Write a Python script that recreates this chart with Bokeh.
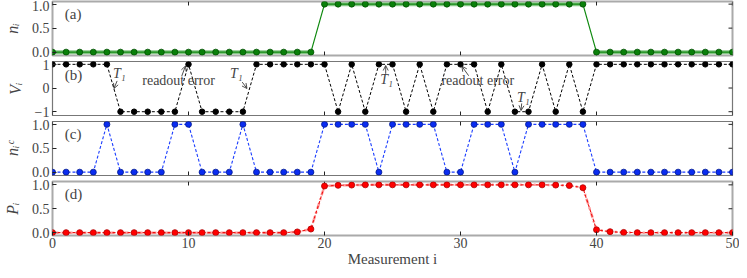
import math
from bokeh.plotting import figure
from bokeh.layouts import column
from bokeh.models import (Range1d, FixedTicker, LinearAxis, Label, Arrow, OpenHead)
from bokeh.embed import file_html
from bokeh.resources import INLINE

# ---------------- data ----------------
measurement = [0, 1, 2, 3, 4, 5, 6, 7, 8, 9, 10, 11, 12, 13, 14, 15, 16, 17, 18, 19,
               20, 21, 22, 23, 24, 25, 26, 27, 28, 29, 30, 31, 32, 33, 34, 35, 36, 37, 38, 39,
               40, 41, 42, 43, 44, 45, 46, 47, 48, 49, 50]
n_state = [0, 0, 0, 0, 0, 0, 0, 0, 0, 0, 0, 0, 0, 0, 0, 0, 0, 0, 0, 0,
           1, 1, 1, 1, 1, 1, 1, 1, 1, 1, 1, 1, 1, 1, 1, 1, 1, 1, 1, 1,
           0, 0, 0, 0, 0, 0, 0, 0, 0, 0, 0]
v_readout = [1, 1, 1, 1, 1, -1, -1, -1, -1, -1, 1, -1, -1, -1, -1, 1, 1, 1, 1, 1,
             1, -1, 1, -1, 1, 1, -1, 1, -1, 1, 1, 1, -1, 1, -1, -1, 1, -1, 1, -1,
             1, 1, 1, 1, 1, 1, 1, 1, 1, 1, 1]
n_change = [0, 0, 0, 0, 1, 0, 0, 0, 0, 1, 1, 0, 0, 0, 1, 0, 0, 0, 0, 0,
            1, 1, 1, 1, 0, 1, 1, 1, 1, 0, 0, 1, 1, 1, 0, 1, 1, 1, 1, 1,
            0, 0, 0, 0, 0, 0, 0, 0, 0, 0, 0]
p_prob = [0.0, 0.0, 0.0, 0.0, 0.0, 0.0, 0.0, 0.0, 0.0, 0.0, 0.0, 0.0, 0.0, 0.0, 0.0, 0.0, 0.0, 0.0, 0.015, 0.075,
          0.975, 0.99, 0.995, 1.0, 1.0, 1.0, 1.0, 1.0, 1.0, 1.0, 1.0, 1.0, 1.0, 1.0, 1.0, 1.0, 1.0, 0.995, 0.985, 0.94,
          0.06, 0.02, 0.005, 0.0, 0.0, 0.0, 0.0, 0.0, 0.0, 0.0, 0.0]

x_ticks = [0, 10, 20, 30, 40, 50]
x_tick_labels = {0: "0", 10: "10", 20: "20", 30: "30", 40: "40", 50: "50"}
unit_ticks = [0, 0.5, 1]
unit_tick_labels = {0: "0.0", 0.5: "0.5", 1: "1.0"}
pm_ticks = [-1, 0, 1]
pm_tick_labels = {-1: "\u22121", 0: "0", 1: "1"}

FONT = "Liberation Serif"
X0, X1 = 0, 50
xr = Range1d(X0, X1)
FH = 54
TICK = "#222222"


def make_panel(yrange, yticks, ylabels, ylabel, outline_color, outline_width, top, bottom, last):
    p = figure(frame_width=680, frame_height=FH, x_range=xr, y_range=Range1d(*yrange),
               x_axis_type=None, y_axis_type=None, output_backend="svg", toolbar_location=None,
               min_border_left=44, min_border_right=7, min_border_top=top, min_border_bottom=bottom)
    p.outline_line_color = outline_color
    p.outline_line_width = outline_width
    p.background_fill_color = "white"
    p.border_fill_color = "white"
    ly = LinearAxis(ticker=FixedTicker(ticks=yticks), major_label_overrides=ylabels,
                    major_tick_in=4, major_tick_out=0, minor_tick_line_color=None,
                    axis_line_color=None, major_tick_line_color=TICK,
                    major_label_text_font=FONT, major_label_text_font_size="14px",
                    major_label_standoff=3, axis_label=ylabel, axis_label_text_font=FONT,
                    axis_label_text_font_style="italic", axis_label_text_font_size="16px",
                    axis_label_standoff=8)
    p.add_layout(ly, "left")
    # inward tick marks on the right, top (and bottom for inner panels)
    p.ray(x=X1, y=yticks, length=4, length_units="screen", angle=math.pi,
          line_color=TICK, line_width=1)
    p.ray(x=x_ticks, y=yrange[1], length=4, length_units="screen", angle=-math.pi / 2,
          line_color=TICK, line_width=1)
    if last:
        bx = LinearAxis(ticker=FixedTicker(ticks=x_ticks), major_label_overrides=x_tick_labels,
                        major_tick_in=4, major_tick_out=0, minor_tick_line_color=None,
                        axis_line_color=None, major_tick_line_color=TICK,
                        major_label_text_font=FONT, major_label_text_font_size="14px",
                        major_label_standoff=2, axis_label="Measurement i",
                        axis_label_text_font=FONT, axis_label_text_font_style="normal",
                        axis_label_text_font_size="15px", axis_label_standoff=0)
        p.add_layout(bx, "below")
    else:
        p.ray(x=x_ticks, y=yrange[0], length=4, length_units="screen", angle=math.pi / 2,
              line_color=TICK, line_width=1)
    return p


# ---- panel (a) ----
pa = make_panel((-0.07, 1.055), unit_ticks, unit_tick_labels, "n\u1d62", "#aaaaaa", 2, 1, 4, False)
run_xs, run_ys = [], []
start = 0
for i in range(1, len(measurement) + 1):
    if i == len(measurement) or n_state[i] != n_state[start]:
        run_xs.append(measurement[start:i])
        run_ys.append(n_state[start:i])
        start = i
pa.multi_line(xs=run_xs, ys=run_ys, line_color="#86c686", line_width=4)
pa.line(measurement, n_state, line_color="#108a10", line_width=1.2)
pa.scatter(measurement, n_state, size=6, fill_color="#0a800a", line_color="#045004", line_width=0.8)
pa.add_layout(Label(x=0.9, y=0.8, text="(a)", text_baseline="middle", text_font=FONT,
                    text_font_size="15px"))

# ---- panel (b) ----
pb = make_panel((-1.16, 1.12), pm_ticks, pm_tick_labels, "V\u1d62", "#777777", 1.2, 2, 4, False)
pb.line(measurement, v_readout, line_color="black", line_width=1, line_dash="3 2")
pb.scatter(measurement, v_readout, size=5.5, fill_color="black", line_color="black")
pb.add_layout(Label(x=0.9, y=0.55, text="(b)", text_baseline="middle", text_font=FONT,
                    text_font_size="15px"))
texts = [(4.45, 0.6, "T\u2081"), (6.6, 0.3, "readout error"), (13.05, 0.6, "T\u2081"),
         (24.1, 0.38, "T\u2081"), (28.6, 0.3, "readout error"), (34.15, -0.4, "T\u2081")]
for tx, ty, tt in texts:
    style = "italic" if tt.startswith("T") else "normal"
    pb.add_layout(Label(x=tx, y=ty, text=tt, text_baseline="middle", text_font=FONT,
                        text_font_size="14px", text_font_style=style))
arrows = [(4.75, 0.3, 4.52, -0.02), (9.5, 0.5, 9.78, 0.93), (13.95, 0.25, 14.3, -0.02),
          (24.5, 0.6, 24.5, 0.95), (30.6, 0.52, 30.1, 0.92), (34.5, -0.65, 34.45, -0.95)]
for x0, y0, x1, y1 in arrows:
    pb.add_layout(Arrow(end=OpenHead(size=5, line_width=0.8, line_color="#222222"),
                        x_start=x0, y_start=y0, x_end=x1, y_end=y1,
                        line_width=0.8, line_color="#222222"))

# ---- panel (c) ----
pc = make_panel((-0.07, 1.06), unit_ticks, unit_tick_labels, "n\u1d62\u1d9c", "#777777", 1.2, 2, 4, False)
pc.line(measurement, n_change, line_color="#1a3cff", line_width=1.1, line_dash="3 2")
pc.scatter(measurement, n_change, size=6, fill_color="#0a2cf0", line_color="#001a90", line_width=0.8)
pc.add_layout(Label(x=0.9, y=0.8, text="(c)", text_baseline="middle", text_font=FONT,
                    text_font_size="15px"))

# ---- panel (d) ----
pd_ = make_panel((-0.06, 1.07), unit_ticks, unit_tick_labels, "P\u1d62", "#aaaaaa", 2, 2, 27, True)
pd_.line(measurement, p_prob, line_color="#ff9a9a", line_width=2.5, line_dash="6 3 2 3")
pd_.line(measurement, p_prob, line_color="#ee1111", line_width=1.1, line_dash="3 2")
pd_.scatter(measurement, p_prob, size=6, fill_color="#ff0000", line_color="#b00000", line_width=0.8)
pd_.add_layout(Label(x=0.9, y=0.8, text="(d)", text_baseline="middle", text_font=FONT,
                     text_font_size="15px"))

layout = column(pa, pb, pc, pd_, spacing=0)
open("out.html", "w").write(file_html(layout, INLINE))
